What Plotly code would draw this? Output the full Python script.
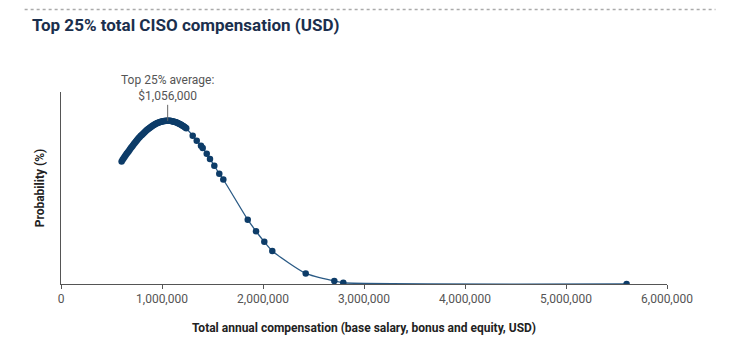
import plotly.graph_objects as go

# Compensation (millions USD) and probability density values
comp_musd = [0.60, 0.61, 0.62, 0.63, 0.64, 0.65, 0.66, 0.67, 0.68, 0.69,
             0.70, 0.71, 0.72, 0.73, 0.74, 0.75, 0.76, 0.77, 0.78, 0.79,
             0.80, 0.81, 0.82, 0.83, 0.84, 0.85, 0.86, 0.87, 0.88, 0.89,
             0.90, 0.91, 0.92, 0.93, 0.94, 0.95, 0.96, 0.97, 0.98, 0.99,
             1.00, 1.01, 1.02, 1.03, 1.04, 1.05, 1.06, 1.07, 1.08, 1.09,
             1.10, 1.11, 1.12, 1.13, 1.14, 1.15, 1.16, 1.17, 1.18, 1.19,
             1.20, 1.21, 1.22, 1.23, 1.24,
             1.304, 1.344, 1.386, 1.403, 1.443, 1.475, 1.518, 1.567, 1.607,
             1.849, 1.931, 2.013, 2.092, 2.423, 2.706, 2.795, 5.60]
probability = [0.497, 0.504, 0.510, 0.516, 0.522, 0.528, 0.534, 0.539, 0.545, 0.551,
               0.556, 0.561, 0.567, 0.572, 0.577, 0.582, 0.587, 0.592, 0.596, 0.601,
               0.605, 0.609, 0.613, 0.617, 0.621, 0.625, 0.628, 0.631, 0.634, 0.637,
               0.640, 0.643, 0.645, 0.648, 0.650, 0.652, 0.654, 0.655, 0.657, 0.658,
               0.659, 0.660, 0.661, 0.661, 0.662, 0.662, 0.662, 0.662, 0.662, 0.661,
               0.660, 0.659, 0.658, 0.657, 0.656, 0.654, 0.652, 0.650, 0.648, 0.646,
               0.643, 0.641, 0.638, 0.635, 0.632,
               0.602, 0.581, 0.561, 0.552, 0.528, 0.507, 0.480, 0.447, 0.424,
               0.261, 0.214, 0.171, 0.134, 0.043, 0.012, 0.005, 0.0002]
avg_value = 1056000
avg_label = "Top 25% average:<br>$1,056,000"
x_ticks = [0, 1000000, 2000000, 3000000, 4000000, 5000000, 6000000]

x_vals = [v * 1e6 for v in comp_musd]
navy = "#0d3c68"

fig = go.Figure()
fig.add_trace(go.Scatter(
    x=x_vals, y=probability, mode="lines+markers",
    line=dict(color="#2a5a85", width=1.3, shape="spline", smoothing=0.6),
    marker=dict(color=navy, size=6.5),
    showlegend=False, hoverinfo="skip"))

peak_y = max(probability)
fig.add_shape(type="line", x0=avg_value, x1=avg_value, y0=peak_y, y1=peak_y + 0.065,
              line=dict(color="#666", width=1), xref="x", yref="y")
fig.add_annotation(x=avg_value, y=peak_y + 0.065, text=avg_label, showarrow=False,
                   yanchor="bottom", xref="x", yref="y",
                   font=dict(family="Roboto", size=12, color="#555"))

# dotted separator at top
fig.add_shape(type="line", xref="paper", yref="paper", x0=-0.06, x1=1.08, y0=1.43, y1=1.43,
              line=dict(color="#aaa", width=1.5, dash="dot"))

fig.update_layout(
    width=742, height=355,
    margin=dict(l=61, r=75, t=92, b=71, autoexpand=False),
    paper_bgcolor="white", plot_bgcolor="white",
    title=dict(text="<b>Top 25% total CISO compensation (USD)</b>", x=0.043, xanchor="left",
               y=0.93, yanchor="middle",
               font=dict(family="Roboto", size=17, color="#1b2f4d")),
    xaxis=dict(range=[0, 6000000], tickvals=x_ticks, tickformat=",", showgrid=False,
               zeroline=False, showline=True, linecolor="#555", linewidth=1,
               ticks="outside", ticklen=4, tickcolor="#555", automargin=False,
               tickfont=dict(family="Roboto", size=12, color="#555"),
               title=dict(text="<b>Total annual compensation (base salary, bonus and equity, USD)</b>",
                          standoff=18, font=dict(family="Roboto", size=12, color="#222"))),
    yaxis=dict(range=[0, 0.779], showgrid=False, zeroline=False, showticklabels=False,
               showline=True, linecolor="#555", linewidth=1, ticks="", automargin=False,
               title=dict(text="<b>Probability (%)</b>", standoff=12,
                          font=dict(family="Roboto", size=12, color="#222"))),
)

fig.write_html("out.html", config={"displayModeBar": False},
               post_script="document.body.style.margin='0';")
